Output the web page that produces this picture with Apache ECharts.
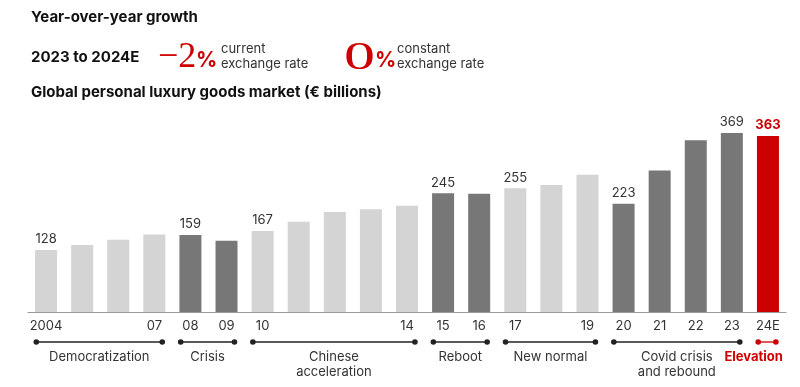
<!DOCTYPE html>
<html><head><meta charset="utf-8">
<script src="https://cdn.jsdelivr.net/npm/echarts@6/dist/echarts.min.js"></script>
<style>html,body{margin:0;padding:0;background:#fff}#c{width:800px;height:387px}</style>
</head><body><div id="c"></div>
<script>
const categories = ['2004','','','07','08','09','10','','','','14','15','16','17','','19','20','21','22','23','24E'];
const values = [128,138,149,160,159,147,167,186,206,212,219,245,244,255,262,283,223,292,354,369,363];
const valueLabels = ['128',null,null,null,'159',null,'167',null,null,null,null,'245',null,'255',null,null,'223',null,null,'369','363'];
const eraNames = ['Democratization','Crisis','Chinese\nacceleration','Reboot','New normal','Covid crisis\nand rebound','Elevation'];
const eraStart = [0,4,6,11,13,16,20];
const eraEnd = [3,5,10,12,15,19,20];
const eraTone = ['light','dark','light','dark','light','dark','red'];

const toneColor = {light:'#d4d4d4', dark:'#777777', red:'#cc0000'};
const FONT = 'Inter';
function toneOf(i){ for(let k=0;k<eraStart.length;k++){ if(i>=eraStart[k]&&i<=eraEnd[k]) return eraTone[k]; } return 'light'; }

const barData = values.map((v,i)=>{
  const t = toneOf(i);
  return {
    value: v,
    itemStyle:{color: toneColor[t]},
    label:{show: valueLabels[i]!==null, formatter: valueLabels[i]||'',
      color: t==='red' ? '#cc0000' : '#333', fontWeight: t==='red' ? 700 : 400}
  };
});

const chart = echarts.init(document.getElementById('c'));
chart.setOption({
  animation:false,
  grid:{left:28,right:14,top:118,bottom:75},
  xAxis:{type:'category',data:categories,
    axisLine:{lineStyle:{color:'#9a9a9a',width:1.2}},axisTick:{show:false},
    axisLabel:{interval:0,color:'#333',fontSize:13,fontFamily:FONT,margin:8}},
  yAxis:{type:'value',min:0,max:400,show:false,splitLine:{show:false}},
  series:[
    {type:'bar',data:barData,barWidth:22,
      label:{position:'top',distance:4,fontSize:13,fontFamily:FONT}},
    {type:'custom',clip:false,silent:true,
      data: eraNames.map((n,i)=>[eraStart[i],eraEnd[i],i]),
      encode:{x:[0,1]},
      renderItem:function(params,api){
        const k = api.value(2);
        const s = api.coord([api.value(0),0]);
        const e = api.coord([api.value(1),0]);
        const bw = api.size([1,0])[0];
        const x1 = s[0]-bw*0.27, x2 = e[0]+bw*0.22;
        const y = s[1]+30;
        const red = eraTone[k]==='red';
        const col = red ? '#cc0000' : '#222';
        const last = k===eraNames.length-1;
        return {type:'group',children:[
          {type:'line',shape:{x1:x1,y1:y,x2:x2,y2:y},style:{stroke:col,lineWidth:1.3}},
          {type:'circle',shape:{cx:x1,cy:y,r:2.8},style:{fill:col}},
          {type:'circle',shape:{cx:x2,cy:y,r:2.8},style:{fill:col}},
          {type:'text',x: last ? x2+7 : (x1+x2)/2, y:y+8,
            style:{text:eraNames[k],fill: red?'#cc0000':'#333',fontSize:13,fontFamily:FONT,
              fontWeight: red?700:400, align: last?'right':'center',verticalAlign:'top',lineHeight:15}}
        ]};
      }}
  ],
  graphic:[
    {type:'text',left:31,top:10,style:{text:'Year-over-year growth',fontSize:15,fontWeight:700,fontFamily:FONT,fill:'#111'}},
    {type:'text',left:31,top:50,style:{text:'2023 to 2024E',fontSize:15,fontWeight:700,fontFamily:FONT,fill:'#111'}},
    {type:'text',x:158,y:40,style:{text:'\u22122',fontSize:36,fontFamily:'Liberation Serif',fill:'#cc0000',verticalAlign:'top'}},
    {type:'text',left:196,top:50,style:{text:'%',fontSize:21,fontWeight:700,fontFamily:FONT,fill:'#cc0000'}},
    {type:'text',left:221,top:42,style:{text:'current\nexchange rate',fontSize:13,lineHeight:15,fontFamily:FONT,fill:'#333'}},
    {type:'text',x:344,y:38,scaleX:1.55,style:{text:'0',fontSize:40,fontFamily:'Liberation Serif',fill:'#cc0000',verticalAlign:'top'}},
    {type:'text',left:375,top:50,style:{text:'%',fontSize:21,fontWeight:700,fontFamily:FONT,fill:'#cc0000'}},
    {type:'text',left:397,top:42,style:{text:'constant\nexchange rate',fontSize:13,lineHeight:15,fontFamily:FONT,fill:'#333'}},
    {type:'text',left:31,top:85,style:{text:'Global personal luxury goods market (\u20ac billions)',fontSize:15,fontWeight:700,fontFamily:FONT,fill:'#111'}}
  ]
});
</script></body></html>
